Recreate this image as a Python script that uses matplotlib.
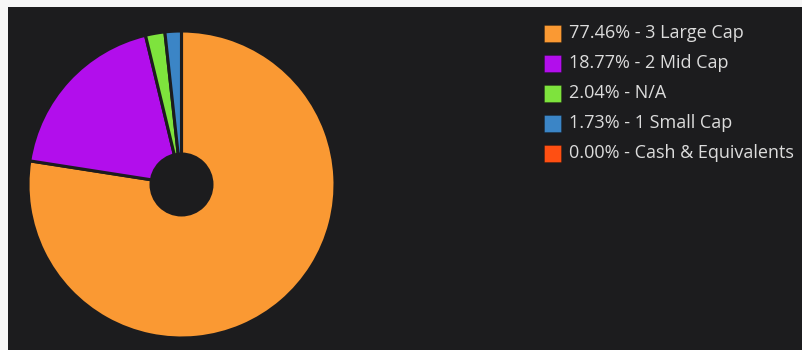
import matplotlib
matplotlib.use("Agg")
import matplotlib.pyplot as plt
from matplotlib.patches import Rectangle, Circle

# Market-cap breakdown
labels = ["3 Large Cap", "2 Mid Cap", "N/A", "1 Small Cap", "Cash & Equivalents"]
values = [77.46, 18.77, 2.04, 1.73, 0.00]
colors = ["#FA9933", "#B20EEC", "#7EE33D", "#3B85C6", "#FF4F12"]

BG = "#1C1C1E"
W, H = 803, 350

fig = plt.figure(figsize=(W / 100, H / 100), dpi=100, facecolor="#F6F6F6")

# dark panel behind everything
fig.patches.append(Rectangle((8 / W, 0), 1 - 8 / W, (H - 7) / H,
                             transform=fig.transFigure, facecolor=BG,
                             edgecolor="none", zorder=-10))

# pie axes, square in pixels
cx, cy, r = 181.5, 184.5, 153.5
ax = fig.add_axes([(cx - r) / W, (H - cy - r) / H, 2 * r / W, 2 * r / H])
ax.set_zorder(1)
ax.set_facecolor("none")
ax.pie(values, colors=colors, startangle=90, counterclock=False, radius=1,
       wedgeprops=dict(edgecolor=BG, linewidth=2.2))
ax.add_patch(Circle((0, 0), 32 / r, facecolor=BG, edgecolor="none", zorder=5))
ax.set_xlim(-1, 1)
ax.set_ylim(-1, 1)
ax.set_aspect("equal")
ax.axis("off")

# legend
sw, x0, tx = 17, 544, 569
for i, (lab, v, c) in enumerate(zip(labels, values, colors)):
    yc = 33.5 + 30 * i
    fig.patches.append(Rectangle((x0 / W, (H - yc - sw / 2) / H), sw / W, sw / H,
                                 transform=fig.transFigure, facecolor=c,
                                 edgecolor="#00000040", linewidth=0.6, zorder=3))
    fig.text(tx / W, (H - yc) / H, f"{v:.2f}% - {lab}", color="#DCDCDC",
             fontsize=13, family="Open Sans", va="center", ha="left")

fig.savefig("out.png", dpi=100, facecolor=fig.get_facecolor())
